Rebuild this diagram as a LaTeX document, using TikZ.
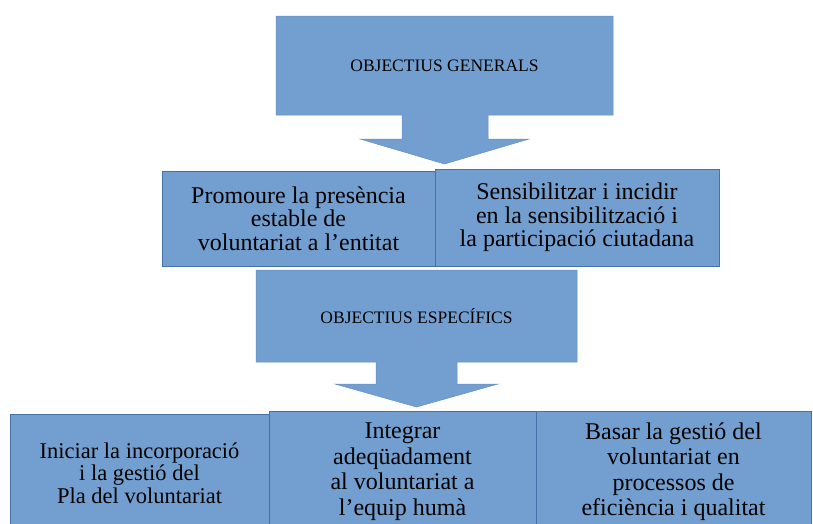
\documentclass[tikz,border=0pt]{standalone}
\usepackage{fontspec}
\setmainfont{Liberation Serif}
\usepackage{tikz}
\definecolor{boxblue}{HTML}{729FCF}
\definecolor{edgeblue}{HTML}{4672AB}
\definecolor{calloutedge}{HTML}{6491C5}

\begin{document}
\begin{tikzpicture}[x=1pt,y=-1pt,join=miter,
        callout/.style={fill=boxblue,draw=calloutedge,line width=.5pt},
        goal/.style={fill=boxblue,draw=edgeblue,line width=.8pt,outer sep=0pt,inner sep=2pt,anchor=north west},
        head/.style={font=\fontsize{17.5}{20}\selectfont},
        bigtext/.style={align=center,font=\fontsize{24}{23.5}\selectfont},
        midtext/.style={align=center,font=\fontsize{24}{25.5}\selectfont},
        smalltext/.style={align=center,font=\fontsize{22.5}{22.5}\selectfont}] % Objectives chart
        \clip (0,0) rectangle (813,523);
        \fill[white] (0,0) rectangle (813,523);
        % general objectives
        \filldraw[callout](276,16)--(613,16)--(613,115)--(488,115)--(488,139)--(529,139)--(444.5,164)
                --(360,139)--(402,139)--(402,115)--(276,115)--cycle;
        \node[head] (gen) at (444.5,65.5) {OBJECTIUS GENERALS};
        \node[goal,bigtext,minimum width=273,minimum height=95] (promo) at (162,171)
                {Promoure la presència\\estable de\\voluntariat a l’entitat};
        \node[goal,bigtext,minimum width=284,minimum height=97] (sensi) at (435,169)
                {Sensibilitzar i incidir\\en la sensibilització i\\la participació ciutadana};
        % specific objectives
        \filldraw[callout](256,270)--(577,270)--(577,362)--(457,362)--(457,384)--(498,384)--(416.5,407)
                --(335,384)--(376,384)--(376,362)--(256,362)--cycle;
        \node[head] (espec) at (416.5,316) {OBJECTIUS ESPECÍFICS};
        \node[goal,smalltext,minimum width=259,minimum height=118] (inici) at (10,414)
                {Iniciar la incorporació\\i la gestió del\\Pla del voluntariat};
        \node[goal,midtext,minimum width=267,minimum height=121] (integ) at (269,411)
                {Integrar\\adeqüadament\\al voluntariat a\\l’equip humà};
        \node[goal,midtext,minimum width=275,minimum height=121] (basar) at (536,411)
                {Basar la gestió del\\voluntariat en\\processos de\\eficiència i qualitat};
\end{tikzpicture}
\end{document}
